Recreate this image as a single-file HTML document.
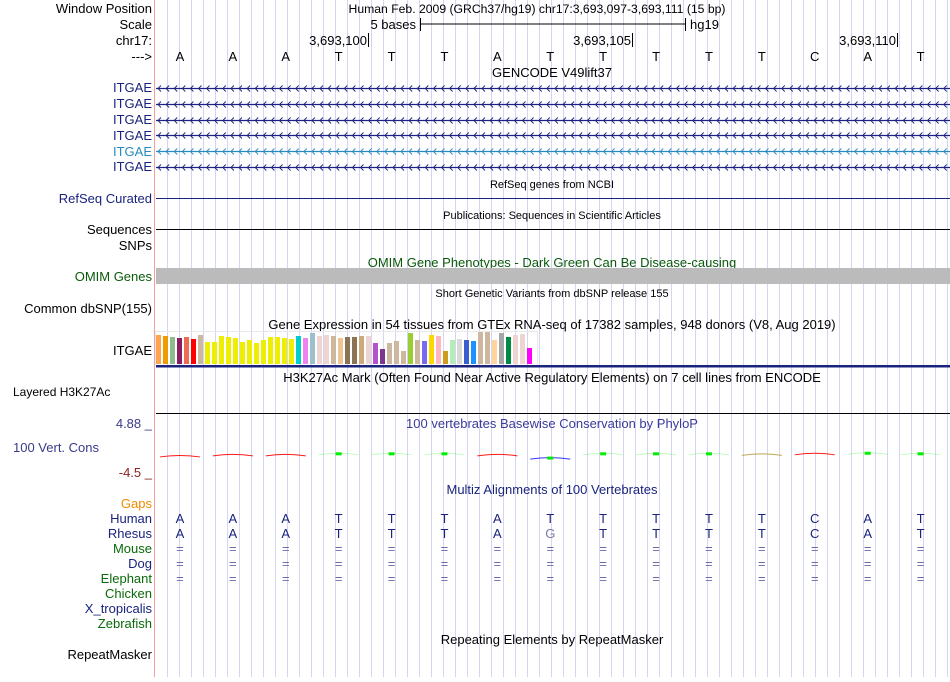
<!DOCTYPE html>
<html><head><meta charset="utf-8">
<style>
body{margin:0;background:#fff;width:950px;height:677px;overflow:hidden;font-family:"Liberation Sans",sans-serif;}
svg text{font-family:"Liberation Sans",sans-serif;font-size:13px;}
svg text.sm{font-size:11px;}
svg text.hd{font-size:12.2px;}
svg text.l12{font-size:12px;}
</style></head>
<body>
<svg id="c" width="950" height="677" xmlns="http://www.w3.org/2000/svg">
<g id="grid"></g>
<line x1="154.5" y1="0" x2="154.5" y2="677" stroke="#f4a0a0"/>
<g id="labels" text-anchor="end">
<text x="152" y="13" fill="#000">Window Position</text>
<text x="152" y="29" fill="#000">Scale</text>
<text x="152" y="45" fill="#000">chr17:</text>
<text x="152" y="61" fill="#000">---&gt;</text>
<text x="152" y="92" fill="#1a237e">ITGAE</text>
<text x="152" y="108" fill="#1a237e">ITGAE</text>
<text x="152" y="124" fill="#1a237e">ITGAE</text>
<text x="152" y="140" fill="#1a237e">ITGAE</text>
<text x="152" y="156" fill="#2a8ac0">ITGAE</text>
<text x="152" y="171" fill="#1a237e">ITGAE</text>
<text x="152" y="203" fill="#1a237e">RefSeq Curated</text>
<text x="152" y="234" fill="#000">Sequences</text>
<text x="152" y="250" fill="#000">SNPs</text>
<text x="152" y="281" fill="#0a5a0a">OMIM Genes</text>
<text x="152" y="313" fill="#000">Common dbSNP(155)</text>
<text x="152" y="355" fill="#000">ITGAE</text>
<text class="l12" x="13" y="396" text-anchor="start" fill="#000">Layered H3K27Ac</text>
<text x="152" y="428" fill="#3a3a8a">4.88 _</text>
<text x="99" y="452" fill="#3a3a8a">100 Vert. Cons</text>
<text x="152" y="477" fill="#8b2222">-4.5 _</text>
<text x="152" y="508" fill="#f08c00">Gaps</text>
<text x="152" y="523" fill="#1a237e">Human</text>
<text x="152" y="538" fill="#1a237e">Rhesus</text>
<text x="152" y="553" fill="#0a6a0a">Mouse</text>
<text x="152" y="568" fill="#1a237e">Dog</text>
<text x="152" y="583" fill="#0a6a0a">Elephant</text>
<text x="152" y="598" fill="#0a6a0a">Chicken</text>
<text x="152" y="613" fill="#1a237e">X_tropicalis</text>
<text x="152" y="628" fill="#0a6a0a">Zebrafish</text>
<text x="152" y="659" fill="#000">RepeatMasker</text>
</g>
<g id="titles" text-anchor="middle">
<text class="hd" x="537" y="13">Human Feb. 2009 (GRCh37/hg19)   chr17:3,693,097-3,693,111 (15 bp)</text>
<text x="416" y="29" text-anchor="end">5 bases</text>
<line x1="420" y1="24" x2="685" y2="24" stroke="#000"/>
<line x1="420.5" y1="18" x2="420.5" y2="31" stroke="#000"/>
<line x1="685.5" y1="18" x2="685.5" y2="31" stroke="#000"/>
<text x="690" y="29" text-anchor="start">hg19</text>
<text x="367" y="45" text-anchor="end">3,693,100</text>
<line x1="368.5" y1="33" x2="368.5" y2="47" stroke="#000"/>
<text x="631" y="45" text-anchor="end">3,693,105</text>
<line x1="632.5" y1="33" x2="632.5" y2="47" stroke="#000"/>
<text x="896" y="45" text-anchor="end">3,693,110</text>
<line x1="897.5" y1="33" x2="897.5" y2="47" stroke="#000"/>
<text x="552" y="77">GENCODE V49lift37</text>
<text class="sm" x="552" y="188">RefSeq genes from NCBI</text>
<text class="sm" x="552" y="219">Publications: Sequences in Scientific Articles</text>
<text x="552" y="267" fill="#0a5a0a">OMIM Gene Phenotypes - Dark Green Can Be Disease-causing</text>
<text class="sm" x="552" y="297">Short Genetic Variants from dbSNP release 155</text>
<text x="552" y="329">Gene Expression in 54 tissues from GTEx RNA-seq of 17382 samples, 948 donors (V8, Aug 2019)</text>
<text x="552" y="382">H3K27Ac Mark (Often Found Near Active Regulatory Elements) on 7 cell lines from ENCODE</text>
<text x="552" y="428" fill="#3a3a9a">100 vertebrates Basewise Conservation by PhyloP</text>
<text x="552" y="494" fill="#1a237e">Multiz Alignments of 100 Vertebrates</text>
<text x="552" y="644">Repeating Elements by RepeatMasker</text>
</g>
<line x1="156" y1="198.5" x2="950" y2="198.5" stroke="#1a237e"/>
<line x1="156" y1="229.5" x2="950" y2="229.5" stroke="#000"/>
<rect x="156" y="268" width="794" height="16" fill="#bbbbbb"/>
<line x1="156" y1="413.5" x2="950" y2="413.5" stroke="#000"/>
<g id="genes"></g>
<g id="gtex"></g>
<rect x="156" y="365" width="794" height="2.5" fill="#1a237e"/>
<g id="bases"></g>
<g id="cons"></g>
</svg>
<script>
const NS="http://www.w3.org/2000/svg";
const svg=document.getElementById('c');
function mk(tag,attrs,parent){const e=document.createElementNS(NS,tag);for(const k in attrs)e.setAttribute(k,attrs[k]);(parent||svg).appendChild(e);return e;}

// data
const refBases=["A","A","A","T","T","T","A","T","T","T","T","T","C","A","T"];
const rhesusBases=["A","A","A","T","T","T","A","G","T","T","T","T","C","A","T"];
const gtexValues=[29,28,27,26,27,25,29,22,22,28,27,26,22,24,21,24,27,27,26,25,28,26,31,28,29,28,26,27,27,28,28,21,15,21,23,13,31,24,23,29,28,13,24,25,24,23,32,32,24,31,27,29,30,16];
const gtexColors=["#FFA54F","#EE9A00","#8FBC8F","#8B1C62","#EE6A50","#FF0000","#CDB79E","#EEEE00","#EEEE00","#EEEE00","#EEEE00","#EEEE00","#EEEE00","#EEEE00","#EEEE00","#EEEE00","#EEEE00","#EEEE00","#EEEE00","#EEEE00","#00CDCD","#EE82EE","#9AC0CD","#EED5D2","#EED5D2","#CDB79E","#EEC591","#8B7355","#8B7355","#CDAA7D","#EED5D2","#B452CD","#7A378B","#CDB79E","#CDB79E","#CDB79E","#9ACD32","#CDB79E","#7B68EE","#FFD700","#FFB6C1","#CD9B1D","#B4EEB4","#D9D9D9","#3A5FCD","#1E90FF","#CDB79E","#CDB79E","#FFD39B","#A6A6A6","#008B45","#EED5D2","#EED5D2","#FF00FF"];
const consValues=[-1.3,-1.1,-1.1,-0.9,-0.9,-0.9,-1.1,-1.7,-0.9,-0.9,-0.9,-1.0,-0.9,-0.8,-0.9];
const consColors=["#ff0000","#ff0000","#ff0000","#00ee00","#00ee00","#00ee00","#ff0000","#2020ff","#00ee00","#00ee00","#00ee00","#b8a040","#ff0000","#00ee00","#00ee00"];

// axes
const baseX=i=>153.5+(i+0.5)*52.9;
const gtexY=v=>364-v;
const consMax=4.88, consMin=-4.5;
const consY=v=>423+(consMax-v)/(consMax-consMin)*50;

// gridlines
const grid=document.getElementById('grid');
for(let x=167;x<950;x+=12){const l=mk('line',{x1:x+0.5,y1:0,x2:x+0.5,y2:677,stroke:'#d4d4f4'},grid);

}

// bases
const bg=document.getElementById('bases');
refBases.forEach((b,i)=>{
 let t=mk('text',{x:baseX(i),y:61,'text-anchor':'middle'},bg);t.textContent=b;
 
 
 t=mk('text',{x:baseX(i),y:523,'text-anchor':'middle',fill:'#1a237e'},bg);t.textContent=b;
 
 
 const rb=rhesusBases[i];
 t=mk('text',{x:baseX(i),y:538,'text-anchor':'middle',fill:rb===b?'#1a237e':'#7a7aa8'},bg);t.textContent=rb;
 
 
 [553,568,583].forEach(y=>{t=mk('text',{x:baseX(i),y:y,'text-anchor':'middle',fill:'#6a6aa8'},bg);t.textContent='=';
 
 });
});

// genes
const gg=document.getElementById('genes');
const geneYs=[88,104,120,135,151,167];
geneYs.forEach((y,k)=>{
 const col=k===4?'#2a8ac0':'#1a237e';
 const l=mk('line',{x1:156,y1:y+0.5,x2:950,y2:y+0.5,stroke:col,'stroke-width':1.3},gg);
 
 
 let d='';for(let x=158;x<948;x+=8.1){d+=`M${x+3},${y-2.5}L${x},${y+0.5}L${x+3},${y+3.5}`;}
 mk('path',{d:d,stroke:col,fill:'none','stroke-width':0.9},gg);
});

// gtex bars
const gt=document.getElementById('gtex');
mk('rect',{x:155.5,y:331.5,width:382,height:34,fill:'none',stroke:'#e8e8e8'},gt);
gtexValues.forEach((v,i)=>{
 const r=mk('rect',{x:156+i*7,y:gtexY(v),width:5,height:v,fill:gtexColors[i]},gt);
 
 
});

// conservation
const cg=document.getElementById('cons');
consValues.forEach((v,i)=>{
 const cx=baseX(i), y=consY(v), c=consColors[i];
 const p=mk('path',{d:`M${cx-20},${y+1}Q${cx},${y-2} ${cx+20},${y+1}`,stroke:c,'stroke-width':1,fill:'none','stroke-opacity':c==='#00ee00'?0.25:0.9},cg);
 
 
 if(c==='#00ee00'||i===7){const r=mk('rect',{x:cx-3,y:y-1.5,width:6,height:3,fill:'#00ee00'},cg);
 
 }
});
</script>
</body></html>
